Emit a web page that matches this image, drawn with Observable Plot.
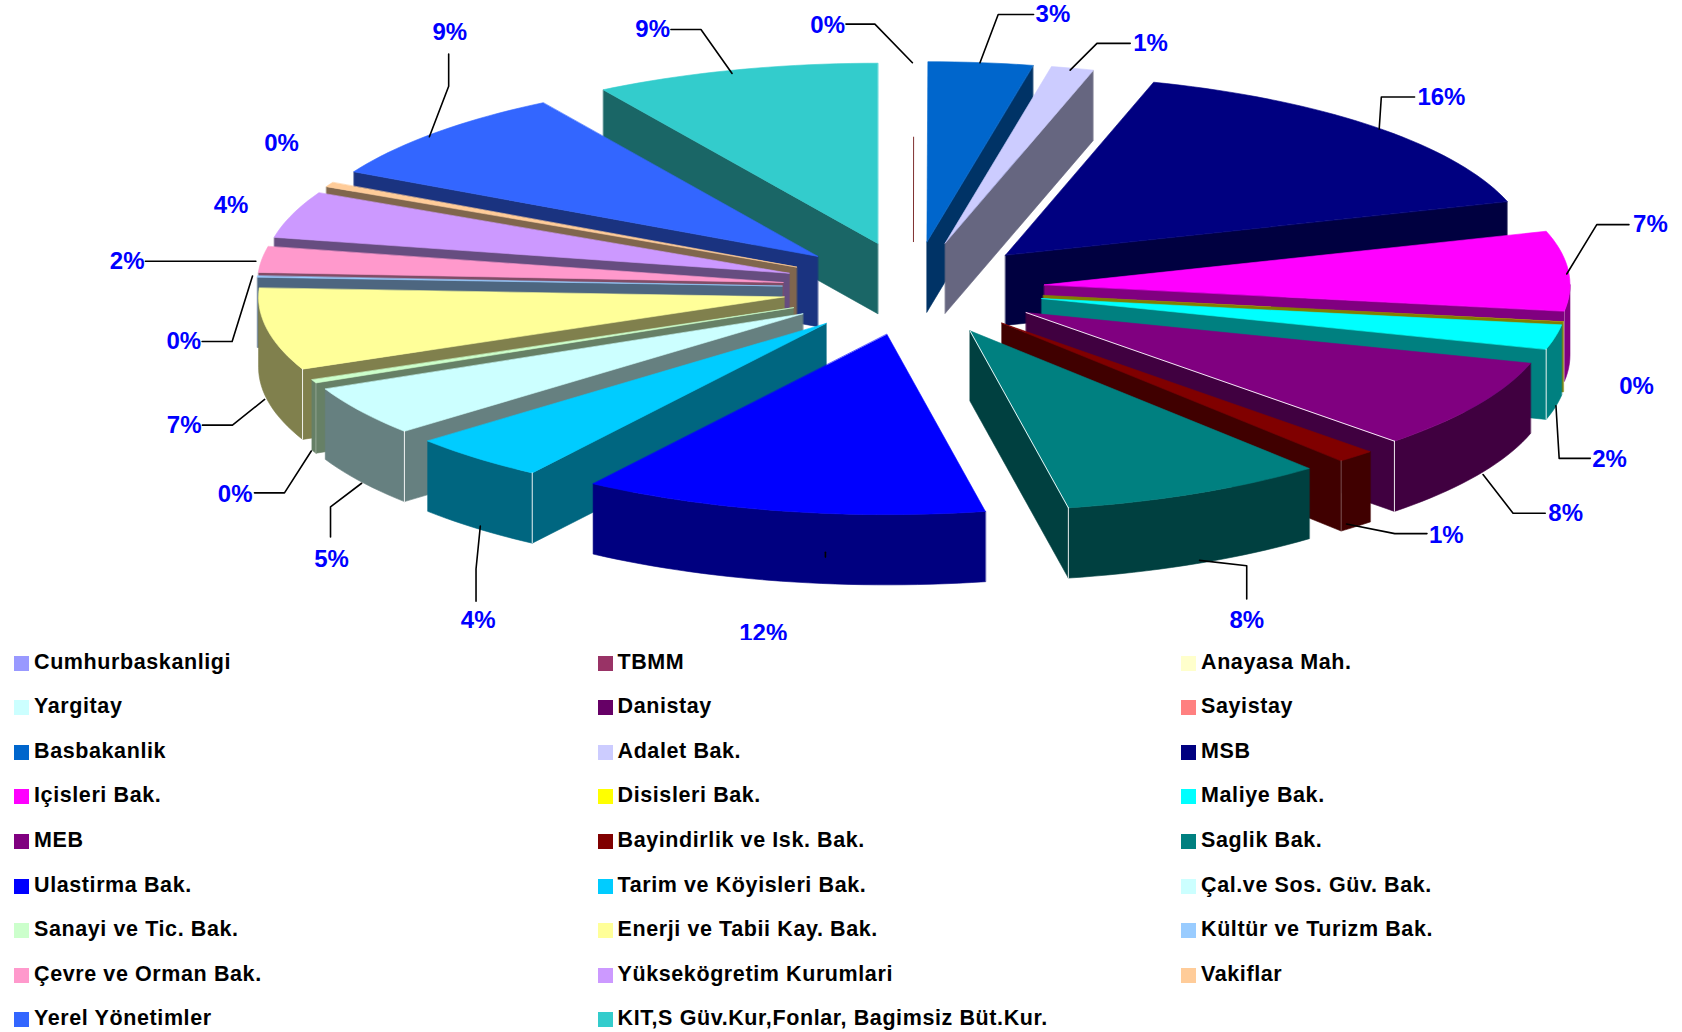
<!DOCTYPE html>
<html lang="tr">
<head>
<meta charset="utf-8">
<title>Pie</title>
<style>
  html, body { margin: 0; padding: 0; background: #fff; width: 1682px; height: 1032px; overflow: hidden; }
  #chart svg { display: block; overflow: hidden; }
  #legend {
    display: grid;
    grid-template-columns: 583.5px 583.5px 480px;
    grid-auto-rows: 44.55px;
    padding-left: 14px;
    font: bold 21.5px "Liberation Sans", Arial, sans-serif;
    letter-spacing: 0.6px;
    color: #000;
  }
  #legend div { display: flex; align-items: center; white-space: nowrap; }
  #legend i { display: inline-block; width: 15px; height: 15px; margin-right: 5px; position: relative; top: 1px; flex: none; }
</style>
<script src="https://cdn.jsdelivr.net/npm/d3@7"></script>
<script src="https://cdn.jsdelivr.net/npm/@observablehq/plot@0.6"></script>
</head>
<body>
<div id="chart"></div>
<div id="legend"></div>
<script>
// ---- data ----
const categories = ["Cumhurbaskanligi","TBMM","Anayasa Mah.","Yargitay","Danistay","Sayistay","Basbakanlik","Adalet Bak.","MSB","Içisleri Bak.","Disisleri Bak.","Maliye Bak.","MEB","Bayindirlik ve Isk. Bak.","Saglik Bak.","Ulastirma Bak.","Tarim ve Köyisleri Bak.","Çal.ve Sos. Güv. Bak.","Sanayi ve Tic. Bak.","Enerji ve Tabii Kay. Bak.","Kültür ve Turizm Bak.","Çevre ve Orman Bak.","Yüksekögretim Kurumlari","Vakiflar","Yerel Yönetimler","KIT,S Güv.Kur,Fonlar, Bagimsiz Büt.Kur."];
const shares = [0.005,0.005,0.005,0.005,0.005,0.005,3.21,1.305,15.65,7.12,0.02,2.2,8.11,1.19,8.17,12.44,4.25,4.45,0.3,7.34,0.11,2.3,4.17,0.42,8.47,8.75];
const colors = ["#9999FF","#993366","#FFFFCC","#CCFFFF","#660066","#FF8080","#0066CC","#CCCCFF","#000080","#FF00FF","#FFFF00","#00FFFF","#800080","#800000","#008080","#0000FF","#00CCFF","#CCFFFF","#CCFFCC","#FFFF99","#99CCFF","#FF99CC","#CC99FF","#FFCC99","#3366FF","#33CCCC"];
const percentLabels = ["0%",null,null,null,null,null,"3%","1%","16%","7%","0%","2%","8%","1%","8%","12%","4%","5%","0%","7%","0%","2%","4%","0%","9%","9%"];

// ---- layout: offsets (reference px) of each label and its leader from the slice's label anchor ----
const labelOffsets = [[-80,-35.5],null,null,null,null,null,[66.6,-46.6],[71.3,-24.8],[58.3,-28.8],[70.2,-43.1],[62,60.8],[44.6,114.4],[77.2,101.6],[80,75.3],[44.4,119.9],[-15.6,115.7],[5.4,152.6],[-21.7,139.1],[-67.7,105.6],[-71.2,89.5],[-62.2,60.4],[-119.3,1.4],[-51,-9],[-39,-39.3],[18.4,-94.6],[-75.1,-39.4]];
const leaderOffsets = [
  [[-1,-0.5],[-36,-36.5],[-63,-36.5]],null,null,null,null,null,
  [[-1.4,-1.6],[15.6,-46.6],[48.6,-46.6]],
  [[-3.7,0.2],[21.3,-24.8],[52.3,-24.8]],
  [[0.3,1.2],[2.3,-28.8],[33.3,-28.8]],
  [[-7.8,2.9],[20.2,-43.1],[50.2,-43.1]],
  null,
  [[-5.4,64.4],[-2.4,113.4],[26.6,113.4]],
  [[0.2,65.6],[28.2,101.6],[58.2,101.6]],
  [[-13,64.3],[32,73.3],[62,73.3]],
  [[0.4,63.9],[44.4,68.9],[44.4,99.9]],
  [[42.4,40.2],[42.4,44.7]],
  [[7.4,64.6],[3.4,104.6],[3.4,134.6]],
  [[6.3,68.1],[-22.7,90.1],[-22.7,118.1]],
  [[3.3,65.6],[-21.7,104.6],[-49.7,104.6]],
  [[3.8,65.5],[-26.2,89.5],[-54.2,89.5]],
  [[1.8,-0.6],[-17.2,60.4],[-45.2,60.4]],
  [[0.7,1.4],[-102.3,1.4]],
  null,null,
  [[-0.6,2.4],[17.4,-44.6],[17.4,-74.6]],
  [[-1.1,1.6],[-30.1,-39.4],[-58.1,-39.4]]
];
const brightEdges = ["Maliye Bak.","MEB","Saglik Bak.","Çal.ve Sos. Güv. Bak.","Tarim ve Köyisleri Bak.","Enerji ve Tabii Kay. Bak."];
const brightRadials = ["MEB","Saglik Bak."];

// ---- geometry in pie units (radius = 1) ----
const WIDTH = 1682, HEIGHT = 640;
const RX = 525.6, RY = 180.2, CX = 912.9, CY = 288;
const EXPLODE_X = 0.25, EXPLODE_Y = 0.26, DEPTH = 0.39, REF = 1682 / 1568;
const total = d3.sum(shares);
const rad = d => d * Math.PI / 180;
const darken = c => { const r = d3.rgb(c); return d3.rgb(r.r / 2, r.g / 2, r.b / 2).formatHex(); };

let cum = 0;
const slices = categories.map((name, i) => {
  const a0 = cum / total * 360; cum += shares[i];
  const a1 = cum / total * 360, mid = (a0 + a1) / 2;
  const sn = Math.sin(rad(mid)), cs = Math.cos(rad(mid));
  return {name, i, a0, a1, mid, ax: EXPLODE_X * sn, ay: EXPLODE_Y * cs, color: colors[i], side: darken(colors[i]),
    anchor: [1.2628 * sn, 1.25 * cs]};
});
const drawn = slices.filter(s => shares[s.i] >= 0.015);
const order = d3.sort(drawn, s => -Math.cos(rad(s.mid)));

const point = (s, a, dz = 0) => [s.ax + Math.sin(rad(a)), s.ay + Math.cos(rad(a)) - dz];
const arc = (s, from, to, dz = 0) => {
  const n = Math.max(2, Math.ceil((to - from) / 1.5) + 1);
  return d3.range(n).map(k => point(s, from + (to - from) * k / (n - 1), dz));
};
const rows = pts => pts.map(([X, Y]) => ({X, Y}));

// each slice paints its cut face, outer wall, top and edge highlights, back to front
const sliceMarks = order.flatMap(s => {
  const apex = [s.ax, s.ay], apexLow = [s.ax, s.ay - DEPTH];
  const fillPoly = (pts, color, sw = 0.6) => Plot.line(rows(pts), {x: "X", y: "Y", fill: color, stroke: color, strokeWidth: sw, curve: "linear-closed"});
  const marks = [];
  let faceAngle = null;
  if (s.a0 > 180) faceAngle = s.a0; else if (s.a1 < 180) faceAngle = s.a1;
  if (faceAngle !== null) marks.push(fillPoly([apex, point(s, faceAngle), point(s, faceAngle, DEPTH), apexLow], s.side));
  const from = Math.max(s.a0, 90), to = Math.min(s.a1, 270);
  if (to > from) marks.push(fillPoly([...arc(s, from, to), ...arc(s, from, to, DEPTH).reverse()], s.side));
  marks.push(fillPoly([apex, ...arc(s, s.a0, s.a1)], s.color, shares[s.i] < 0.1 ? 0 : 0.6));
  if (faceAngle !== null) {
    const strong = brightEdges.includes(s.name);
    marks.push(Plot.line(rows([point(s, faceAngle), point(s, faceAngle, DEPTH)]), {x: "X", y: "Y", stroke: "#fff", strokeWidth: 1, strokeOpacity: strong ? 0.9 : 0.3}));
    if (brightRadials.includes(s.name)) marks.push(Plot.line(rows([apex, point(s, faceAngle)]), {x: "X", y: "Y", stroke: "#fff", strokeWidth: 1, strokeOpacity: 0.9}));
  }
  return marks;
});

// the thin sliver of TBMM shows only as a short radial stroke in the picture
const stubSlice = slices[1];
const stub = [0, 0.58].map(f => ({X: stubSlice.ax + f * Math.sin(rad(stubSlice.mid)), Y: stubSlice.ay + f * Math.cos(rad(stubSlice.mid))}));

const toUnits = (s, [dx, dy]) => ({X: s.anchor[0] + dx * REF / RX, Y: s.anchor[1] - dy * REF / RY});
const labels = slices.filter(s => percentLabels[s.i]).map(s => ({text: percentLabels[s.i], ...toUnits(s, labelOffsets[s.i])}));
const leaders = slices.filter(s => leaderOffsets[s.i]).flatMap(s => leaderOffsets[s.i].map(o => ({id: s.name, ...toUnits(s, o)})));

const chart = Plot.plot({
  width: WIDTH, height: HEIGHT, margin: 0,
  style: {background: "#fff"},
  x: {axis: null, domain: [-CX / RX, (WIDTH - CX) / RX], range: [0, WIDTH]},
  y: {axis: null, domain: [(CY - HEIGHT) / RY, CY / RY], range: [HEIGHT, 0]},
  marks: [
    Plot.line(stub, {x: "X", y: "Y", stroke: "#803030", strokeWidth: 1}),
    ...sliceMarks,
    Plot.line(leaders, {x: "X", y: "Y", z: "id", stroke: "#000", strokeWidth: 1.6}),
    Plot.text(labels, {x: "X", y: "Y", text: "text", fill: "#0000ff", fontSize: 24, fontWeight: "bold", fontFamily: "'Liberation Sans', Arial, sans-serif", textAnchor: "middle", lineAnchor: "middle"})
  ]
});
document.getElementById("chart").appendChild(chart);

const legend = d3.select("#legend");
categories.forEach((name, i) => {
  const row = legend.append("div");
  row.append("i").style("background", colors[i]);
  row.append("span").text(name);
});
</script>
</body>
</html>
